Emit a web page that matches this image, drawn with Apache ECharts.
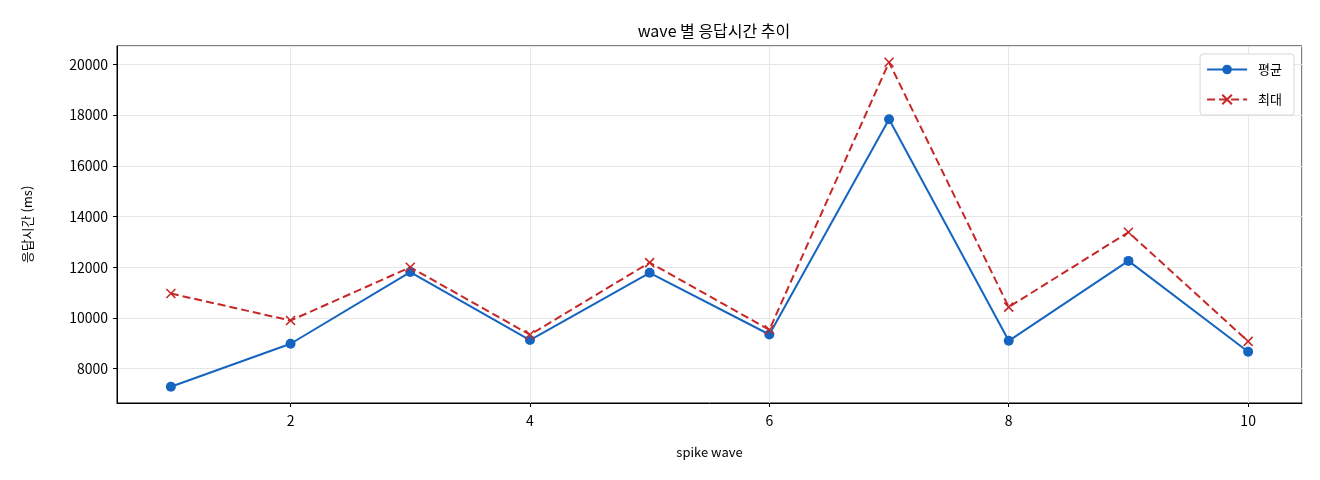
<!DOCTYPE html>
<html lang="ko">
<head>
<meta charset="UTF-8">
<title>wave 별 응답시간 추이</title>
<script src="https://cdn.jsdelivr.net/npm/echarts@6/dist/echarts.min.js"></script>
<style>
  html, body { margin: 0; padding: 0; background: #fff; }
  #chart { width: 1320px; height: 480px; }
</style>
</head>
<body>
<div id="chart"></div>
<script>
// data
var waves = [1, 2, 3, 4, 5, 6, 7, 8, 9, 10];
var avgMs = [7290, 8985, 11810, 9130, 11780, 9350, 17830, 9100, 12250, 8670];
var maxMs = [10965, 9900, 12000, 9340, 12185, 9535, 20080, 10430, 13380, 9080];
var seriesNames = ['평균', '최대'];

var FONT = '"Noto Sans CJK KR", "Noto Sans", sans-serif';
var blue = '#1565c0';
var red = '#c62828';

function zip(xs, ys) {
  return xs.map(function (x, i) { return [x, ys[i]]; });
}

var chart = echarts.init(document.getElementById('chart'));

var option = {
  animation: false,
  textStyle: { fontFamily: FONT },
  title: {
    text: 'wave 별 응답시간 추이',
    left: 709, top: 18, textAlign: 'center',
    textStyle: { fontFamily: FONT, fontSize: 16, fontWeight: 'normal', color: '#000' }
  },
  grid: {
    left: 117, right: 18, top: 46, bottom: 77,
    show: true, borderColor: '#000', borderWidth: 1
  },
  legend: {
    right: 26, top: 54,
    orient: 'vertical',
    itemGap: 17,
    itemWidth: 40, itemHeight: 12,
    padding: [9, 12, 9, 6],
    borderColor: '#d6d6d6', borderWidth: 1, borderRadius: 3,
    backgroundColor: '#fff',
    textStyle: { fontFamily: FONT, fontSize: 13, color: '#000', padding: [0, 0, 0, 6] },
    data: seriesNames
  },
  xAxis: {
    type: 'value',
    name: 'spike wave',
    nameLocation: 'middle', nameGap: 43,
    nameTextStyle: { fontFamily: FONT, fontSize: 13, color: '#000' },
    min: 0.55, max: 10.45,
    splitNumber: 5, minInterval: 2, maxInterval: 2,
    axisLine: { show: true, lineStyle: { color: '#000' } },
    axisTick: { show: true, length: 4, lineStyle: { color: '#000' } },
    axisLabel: { showMinLabel: false, showMaxLabel: false, margin: 11,
                 fontFamily: FONT, fontSize: 14, color: '#000' },
    splitLine: { show: true, lineStyle: { color: '#e6e6e6', width: 1 } }
  },
  yAxis: {
    type: 'value',
    name: '응답시간 (ms)',
    nameLocation: 'middle', nameGap: 83, nameRotate: 90,
    nameTextStyle: { fontFamily: FONT, fontSize: 13, color: '#000' },
    min: 6650, max: 20720,
    splitNumber: 7, minInterval: 2000, maxInterval: 2000,
    axisLine: { show: true, lineStyle: { color: '#000' } },
    axisTick: { show: true, length: 4, lineStyle: { color: '#000' } },
    axisLabel: { showMinLabel: false, showMaxLabel: false, margin: 9,
                 formatter: function (v) { return String(v); },
                 fontFamily: FONT, fontSize: 14, color: '#000' },
    splitLine: { show: true, lineStyle: { color: '#e6e6e6', width: 1 } }
  },
  series: [
    {
      name: seriesNames[0],
      type: 'line',
      data: zip(waves, avgMs),
      symbol: 'circle', symbolSize: 10,
      lineStyle: { color: blue, width: 2 },
      itemStyle: { color: blue }
    },
    {
      name: seriesNames[1],
      type: 'line',
      data: zip(waves, maxMs),
      symbol: 'path://M0,0L10,10M10,0L0,10', symbolSize: 9,
      lineStyle: { color: red, width: 2, type: [8, 4] },
      itemStyle: { color: 'rgba(0,0,0,0)', borderColor: red, borderWidth: 1.6 }
    }
  ]
};

chart.setOption(option);
</script>
</body>
</html>
